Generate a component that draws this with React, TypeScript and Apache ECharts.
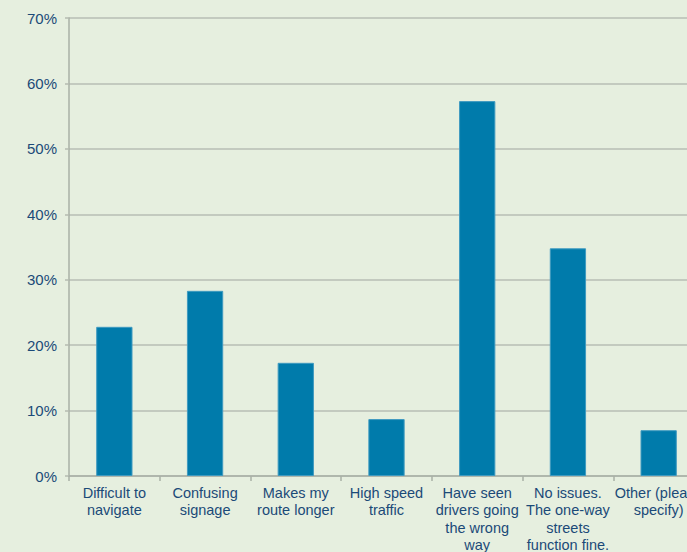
import React, { useEffect, useRef } from "react";
import * as echarts from "echarts";

const categories = [
  "Difficult to\nnavigate",
  "Confusing\nsignage",
  "Makes my\nroute longer",
  "High speed\ntraffic",
  "Have seen\ndrivers going\nthe wrong\nway",
  "No issues.\nThe one-way\nstreets\nfunction fine.",
  "Other (please\nspecify)",
];
const values = [22.8, 28.3, 17.3, 8.7, 57.3, 34.8, 7.0];
const yTicks = { min: 0, max: 70, interval: 10 };

export default function App() {
  const ref = useRef<HTMLDivElement>(null);
  useEffect(() => {
    document.body.style.margin = "0";
    const chart = echarts.init(ref.current!, undefined, { renderer: "svg" });
    const textColor = "#1b4a78";
    chart.setOption({
      animation: false,
      backgroundColor: "#e6efdf",
      grid: { left: 69, top: 18, width: 635, height: 458, outerBoundsMode: "none", containLabel: false },
      xAxis: {
        type: "category",
        data: categories,
        axisLine: { lineStyle: { color: "#a9b0a6", width: 1.5 } },
        axisTick: { show: true, length: 5, lineStyle: { color: "#a9b0a6", width: 1.5 } },
        axisLabel: {
          interval: 0,
          color: textColor,
          fontFamily: "Liberation Sans, Arial, sans-serif",
          fontSize: 14.5,
          lineHeight: 17.2,
          margin: 8.5,
        },
      },
      yAxis: {
        type: "value",
        min: yTicks.min,
        max: yTicks.max,
        interval: yTicks.interval,
        axisLine: { show: true, lineStyle: { color: "#a9b0a6", width: 1.5 } },
        axisTick: { show: true, length: 4, lineStyle: { color: "#b4bbb1", width: 1.5 } },
        splitLine: { lineStyle: { color: "#b7beb4", width: 1.5 } },
        axisLabel: {
          color: textColor,
          fontFamily: "Liberation Sans, Arial, sans-serif",
          fontSize: 15,
          margin: 12,
          formatter: "{value}%",
        },
      },
      series: [
        {
          type: "bar",
          data: values,
          barWidth: "40%",
          itemStyle: { color: "#007bab", borderColor: "#3f9ac0", borderWidth: 1 },
        },
      ],
    });
    return () => chart.dispose();
  }, []);
  return <div ref={ref} style={{ width: 687, height: 552, overflow: "hidden" }} />;
}
